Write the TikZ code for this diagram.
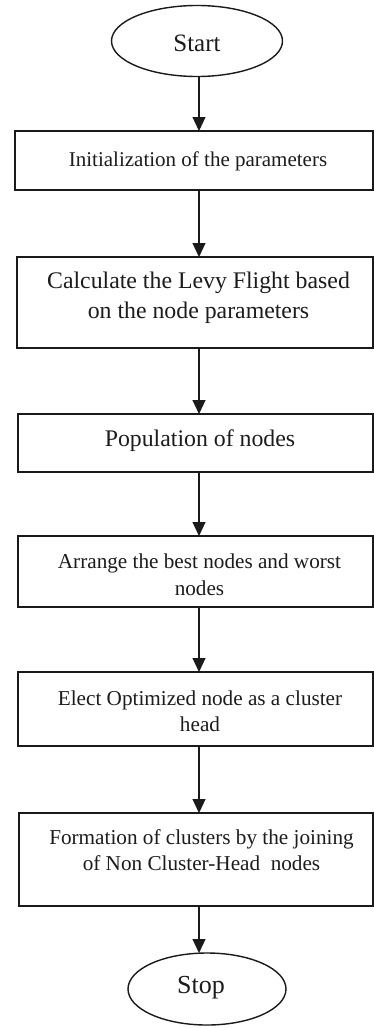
\documentclass[tikz,border=0pt]{standalone}
\usepackage{fontspec}
\setmainfont{Liberation Serif}
\usetikzlibrary{arrows.meta,shapes.geometric}
\definecolor{ink}{HTML}{1A1A1A}
\definecolor{txt}{HTML}{1C1C1C}
\tikzset{
  stepbox/.style={draw=ink, line width=2pt, rectangle, inner sep=0pt, outer sep=0pt},
  term/.style={draw=ink, line width=1.4pt, ellipse, inner sep=0pt, outer sep=0pt},
  lbl/.style={text=txt, align=center, inner sep=0pt},
  arr/.style={draw=ink, line width=1.1pt, -{Triangle[length=14pt,width=13pt]}},
}
\begin{document}
\begin{tikzpicture}[x=1pt,y=-1pt]
\useasboundingbox[fill=white] (0,0) rectangle (374,1028);
% terminals
\node[term, minimum width=171pt, minimum height=71pt] (start) at (197,41) {};
\node[lbl, font=\fontsize{25}{30}\selectfont] (tstart) at (197,43) {Start};
\node[term, minimum width=158pt, minimum height=72pt] (stop) at (207,989) {};
\node[lbl, font=\fontsize{26}{30}\selectfont] (tstop) at (201,988) {Stop};
% boxes
\node[stepbox, minimum width=358pt, minimum height=59pt] (b1) at (194,160.5) {};
\node[stepbox, minimum width=356pt, minimum height=91pt] (b2) at (195,302.5) {};
\node[stepbox, minimum width=355pt, minimum height=58pt] (b3) at (195.5,443) {};
\node[stepbox, minimum width=355pt, minimum height=71pt] (b4) at (195.5,571.5) {};
\node[stepbox, minimum width=355pt, minimum height=74pt] (b5) at (195.5,709) {};
\node[stepbox, minimum width=354pt, minimum height=93pt] (b6) at (196,859.5) {};
% texts
\node[lbl, font=\fontsize{21}{26}\selectfont] (t1) at (198,161) {Initialization of the parameters};
\node[lbl, font=\fontsize{23.8}{30}\selectfont] (t2) at (198.5,298) {Calculate the Levy Flight based\\on the node parameters};
\node[lbl, font=\fontsize{23.8}{30}\selectfont] (t3) at (200,441) {Population of nodes};
\node[lbl, font=\fontsize{21.2}{27}\selectfont] (t4) at (199.5,575) {Arrange the best nodes and worst\\nodes};
\node[lbl, font=\fontsize{21.2}{26.5}\selectfont] (t5) at (200,711) {Elect Optimized node as a cluster\\head};
\node[lbl, font=\fontsize{21.2}{25.5}\selectfont] (t6) at (201.5,850) {Formation of clusters by the joining\\of Non Cluster-Head~ nodes};
% connectors
\coordinate (ax) at (199,0);
\draw[arr] (ax |- start.south) -- (ax |- b1.north);
\draw[arr] (ax |- b1.south) -- (ax |- b2.north);
\draw[arr] (ax |- b2.south) -- (ax |- b3.north);
\draw[arr] (ax |- b3.south) -- (ax |- b4.north);
\draw[arr] (ax |- b4.south) -- (ax |- b5.north);
\draw[arr] (ax |- b5.south) -- (ax |- b6.north);
\draw[arr] (ax |- b6.south) -- (ax |- stop.north);
\end{tikzpicture}
\end{document}
